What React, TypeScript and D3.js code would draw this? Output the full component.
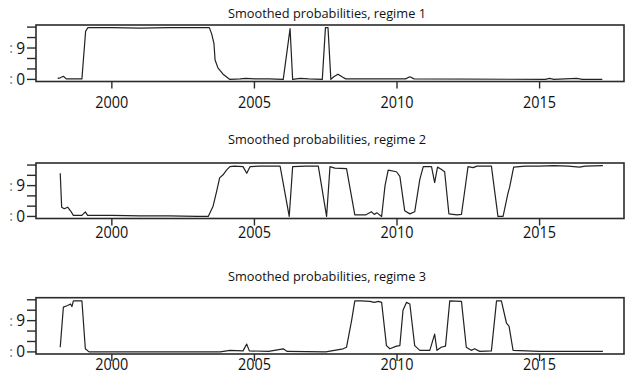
import React from "react";
import * as d3 from "d3";

// Smoothed regime probabilities, [decimal year, probability]
const regime1: [number, number][] = [
  [1998.1, 0.02], [1998.19, 0.03], [1998.3, 0.06], [1998.4, 0.01], [1998.95, 0.01],
  [1999.02, 0.5], [1999.08, 0.92], [1999.16, 0.99], [2000.0, 0.99], [2001.0, 0.98],
  [2002.0, 0.99], [2003.0, 0.99], [2003.42, 0.99], [2003.5, 0.87], [2003.58, 0.69],
  [2003.62, 0.37], [2003.72, 0.22], [2003.9, 0.1], [2004.14, 0.0], [2004.5, 0.01],
  [2004.7, 0.02], [2005.0, 0.01], [2005.5, 0.01], [2006.01, 0.0], [2006.25, 0.97],
  [2006.34, 0.0], [2006.6, 0.02], [2006.9, 0.01], [2007.38, 0.0], [2007.49, 0.99],
  [2007.58, 0.99], [2007.68, 0.0], [2007.78, 0.05], [2007.93, 0.1], [2008.1, 0.04],
  [2008.2, 0.01], [2010.3, 0.01], [2010.45, 0.05], [2010.6, 0.01], [2015.2, 0.0],
  [2015.35, 0.02], [2015.5, 0.0], [2016.3, 0.02], [2016.5, 0.0], [2017.2, 0.0],
];

const regime2: [number, number][] = [
  [1998.19, 0.84], [1998.24, 0.18], [1998.33, 0.15], [1998.45, 0.18], [1998.55, 0.11],
  [1998.65, 0.02], [1998.95, 0.02], [1999.07, 0.09], [1999.15, 0.02], [2000.0, 0.02],
  [2001.0, 0.01], [2002.0, 0.01], [2003.0, 0.0], [2003.38, 0.0], [2003.55, 0.2],
  [2003.67, 0.48], [2003.78, 0.75], [2003.9, 0.81], [2004.02, 0.9], [2004.14, 0.97],
  [2004.3, 0.98], [2004.6, 0.97], [2004.73, 0.84], [2004.85, 0.97], [2005.2, 0.98],
  [2005.9, 0.98], [2006.22, 0.0], [2006.34, 0.97], [2006.8, 0.98], [2007.24, 0.98],
  [2007.53, 0.0], [2007.65, 0.97], [2007.82, 0.94], [2008.23, 0.93], [2008.52, 0.03],
  [2008.9, 0.03], [2009.1, 0.09], [2009.2, 0.04], [2009.3, 0.07], [2009.46, 0.0],
  [2009.58, 0.6], [2009.69, 0.9], [2009.98, 0.87], [2010.1, 0.78], [2010.27, 0.11],
  [2010.45, 0.05], [2010.62, 0.09], [2010.8, 0.72], [2010.92, 0.97], [2011.21, 0.97],
  [2011.32, 0.66], [2011.42, 0.96], [2011.55, 0.92], [2011.67, 0.87], [2011.82, 0.05],
  [2012.1, 0.03], [2012.26, 0.04], [2012.37, 0.48], [2012.49, 0.97], [2012.67, 0.95],
  [2012.8, 0.98], [2013.31, 0.98], [2013.54, 0.0], [2013.72, 0.0], [2013.89, 0.45],
  [2013.95, 0.57], [2014.09, 0.96], [2014.5, 0.98], [2015.0, 0.98], [2015.5, 0.99],
  [2016.0, 0.98], [2016.4, 0.96], [2016.6, 0.98], [2017.22, 0.99],
];

const regime3: [number, number][] = [
  [1998.19, 0.09], [1998.3, 0.86], [1998.45, 0.89], [1998.55, 0.92], [1998.6, 0.87],
  [1998.65, 0.98], [1998.95, 0.98], [1999.07, 0.06], [1999.2, 0.0], [2000.0, 0.0],
  [2003.8, 0.0], [2004.14, 0.03], [2004.6, 0.02], [2004.73, 0.15], [2004.82, 0.02],
  [2005.5, 0.01], [2006.01, 0.06], [2006.15, 0.01], [2007.5, 0.0], [2008.11, 0.06],
  [2008.23, 0.09], [2008.41, 0.61], [2008.52, 0.98], [2008.75, 0.98], [2009.05, 0.97],
  [2009.2, 0.95], [2009.35, 0.97], [2009.46, 0.95], [2009.63, 0.12], [2009.75, 0.06],
  [2009.98, 0.11], [2010.1, 0.12], [2010.21, 0.8], [2010.33, 0.95], [2010.45, 0.92],
  [2010.62, 0.12], [2010.8, 0.03], [2011.15, 0.03], [2011.32, 0.34], [2011.4, 0.03],
  [2011.55, 0.09], [2011.7, 0.11], [2011.85, 0.98], [2012.26, 0.97], [2012.43, 0.09],
  [2012.6, 0.03], [2012.72, 0.06], [2012.9, 0.01], [2013.31, 0.02], [2013.49, 0.98],
  [2013.66, 0.98], [2013.84, 0.55], [2013.93, 0.49], [2014.07, 0.03], [2015.0, 0.01],
  [2016.0, 0.01], [2017.22, 0.01],
];

const titles = [
  "Smoothed probabilities, regime 1",
  "Smoothed probabilities, regime 2",
  "Smoothed probabilities, regime 3",
];
const xTicks = [2000, 2005, 2010, 2015];
const yTicks = [0, 0.2, 0.4, 0.6, 0.8, 1.0];
const yTickLabels: [number, string][] = [[0, "0"], [0.6, "9"]];

const W = 632;
const H = 383;
const FONT = "'Open Sans', 'Liberation Sans', sans-serif";
const INK = "#2b2b2b";

// vertical placement of each panel
const panels = [
  { top: 25, bottom: 81.5, titleY: 17.5, labelY: 107.5 },
  { top: 163, bottom: 218.5, titleY: 144, labelY: 237.5 },
  { top: 297.7, bottom: 354, titleY: 281, labelY: 369.5 },
];

const x = d3.scaleLinear().domain([1997.34, 2017.96]).range([36, 624]);

function Panel({ idx, data }: { idx: number; data: [number, number][] }) {
  const p = panels[idx];
  const y = d3.scaleLinear().domain([-0.04, 1.04]).range([p.bottom, p.top]);
  const line = d3
    .line<[number, number]>()
    .x((d) => x(d[0]))
    .y((d) => y(d[1]));
  const [x0, x1] = x.range();
  return (
    <g>
      <text
        x={327}
        y={p.titleY}
        textAnchor="middle"
        fontFamily={FONT}
        fontSize={12.5}
        fill="#111"
        textLength={198}
        lengthAdjust="spacingAndGlyphs"
      >
        {titles[idx]}
      </text>
      <path d={line(data) ?? ""} fill="none" stroke="#222" strokeWidth={1.2} strokeLinejoin="round" />
      <rect
        x={x0}
        y={p.top}
        width={x1 - x0}
        height={p.bottom - p.top}
        fill="none"
        stroke={INK}
        strokeWidth={1.6}
      />
      {yTicks.map((t) => (
        <line key={t} x1={x0 - 9} x2={x0} y1={y(t)} y2={y(t)} stroke={INK} strokeWidth={1.4} />
      ))}
      {yTickLabels.map(([v, s]) => (
        <g key={v}>
          <text x={11} y={y(v) + 5} fontFamily={FONT} fontSize={14} fill="#777" textAnchor="middle">
            :
          </text>
          <text x={25} y={y(v) + 5.5} fontFamily={FONT} fontSize={15.5} fill="#111" textAnchor="end">
            {s}
          </text>
        </g>
      ))}
      {xTicks.map((t) => (
        <g key={t}>
          <line x1={x(t)} x2={x(t)} y1={p.bottom} y2={p.bottom + 7} stroke={INK} strokeWidth={1.4} />
          <text
            x={x(t)}
            y={p.labelY}
            textAnchor="middle"
            fontFamily={FONT}
            fontSize={15.5}
            fill="#111"
            textLength={33}
            lengthAdjust="spacingAndGlyphs"
          >
            {t}
          </text>
        </g>
      ))}
    </g>
  );
}

export default function App() {
  const series = [regime1, regime2, regime3];
  return (
    <svg
      width={W}
      height={H}
      viewBox={`0 0 ${W} ${H}`}
      style={{ position: "absolute", left: 0, top: 0, background: "#fff" }}
    >
      <rect width={W} height={H} fill="#fff" />
      {series.map((d, i) => (
        <Panel key={i} idx={i} data={d} />
      ))}
    </svg>
  );
}
